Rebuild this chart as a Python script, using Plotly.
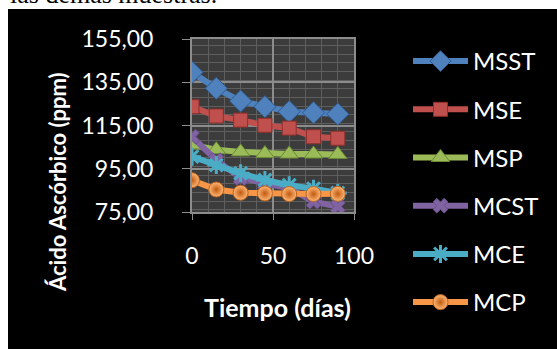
import plotly.graph_objects as go

# Ascorbic acid content over storage time for each sample
dias = [0, 15, 30, 45, 60, 75, 90]
msst = [139.6, 132.2, 126.3, 123.7, 121.4, 120.9, 120.3]
mse = [123.7, 119.4, 117.5, 115.1, 113.8, 109.8, 109.1]
msp = [106.0, 103.8, 102.8, 102.0, 101.8, 101.8, 101.6]
mcst = [109.8, 99.0, 90.7, 88.0, 86.0, 79.8, 77.5]
mce = [100.6, 96.7, 92.9, 89.8, 87.4, 85.8, 83.8]
mcp = [89.7, 85.4, 83.9, 83.6, 83.3, 83.3, 83.4]

series = [
    ("MSST", msst, "#4F81BD", "#2F5A8F", "diamond", 17),
    ("MSE", mse, "#C0504D", "#8E2F2C", "square", 14),
    ("MSP", msp, "#9BBB59", "#6B8A34", "triangle-up", 16),
    ("MCST", mcst, "#8064A2", "#8064A2", "x", 13),
    ("MCE", mce, "#4BACC6", "#4BACC6", "asterisk-open", 15),
    ("MCP", mcp, "#F79646", "#B8621E", "circle", 15),
]

W, H = 557, 349
L, R, T, B = 192, 354, 39, 212


def px(x):
    return (x - L) / (R - L)


def py(y):
    return (B - y) / (B - T)


fig = go.Figure()
for name, vals, color, edge, symbol, size in series:
    marker = dict(symbol=symbol, size=size, color=color,
                  line=dict(color=edge, width=1))
    if symbol == "circle":
        marker["gradient"] = dict(type="radial", color="#C05A10")
        marker["color"] = "#FFB877"
    if symbol == "asterisk-open":
        marker["line"] = dict(color=color, width=3)
    if symbol == "x":
        marker["line"] = dict(color="#6A4E8C", width=1)
    fig.add_trace(go.Scatter(
        x=dias, y=vals, name=name, mode="lines+markers",
        line=dict(color=color, width=6),
        marker=marker, legendgroup=name,
    ))

grid_major = "#8C8C8C"
grid_minor = "#5E5E5E"
axis_font = dict(family="Lato", size=23, color="white")

fig.update_layout(
    width=W, height=H,
    margin=dict(l=L, r=W - R, t=T, b=H - B, pad=0),
    paper_bgcolor="black",
    plot_bgcolor="#3C3C3C",
    separators=", ",
    showlegend=True,
    legend=dict(
        x=px(408), xanchor="left", y=py(39), yanchor="top",
        font=dict(family="Lato", size=24, color="white"),
        bgcolor="rgba(0,0,0,0)", tracegroupgap=14,
        itemwidth=55, maxheight=H,
    ),
    xaxis=dict(
        range=[0, 100], tickvals=[0, 50, 100], ticks="outside", ticklen=6,
        tickcolor=grid_major, showline=True, linecolor=grid_major, linewidth=2,
        mirror=True, showgrid=True, gridcolor=grid_major, gridwidth=1.5,
        minor=dict(dtick=10, showgrid=True, gridcolor=grid_minor, gridwidth=1),
        tickfont=axis_font, ticklabelstandoff=16, zeroline=False,
    ),
    yaxis=dict(
        range=[75, 155], tickvals=[75, 95, 115, 135, 155], tickformat=".2f",
        ticks="outside", ticklen=8, tickcolor=grid_major, showline=True,
        linecolor=grid_major, linewidth=2, mirror=True, showgrid=True,
        gridcolor=grid_major, gridwidth=1.5,
        minor=dict(dtick=4, showgrid=True, gridcolor=grid_minor, gridwidth=1),
        tickfont=axis_font, ticklabelstandoff=24, zeroline=False,
    ),
    shapes=[
        dict(type="rect", xref="paper", yref="paper", x0=px(-5), x1=px(W + 5),
             y0=py(9), y1=py(-5), fillcolor="white", line=dict(width=0)),
        dict(type="rect", xref="paper", yref="paper", x0=px(-5), x1=px(8),
             y0=py(H + 5), y1=py(-5), fillcolor="white", line=dict(width=0)),
    ],
    annotations=[
        dict(text="las demás muestras.", xref="paper", yref="paper",
             x=px(8), y=py(11), xanchor="left", yanchor="bottom",
             showarrow=False,
             font=dict(family="Liberation Serif", size=26, color="black")),
        dict(text="<b>Ácido Ascórbico (ppm)</b>", xref="paper", yref="paper",
             x=px(57), y=py(182), xanchor="center", yanchor="middle",
             textangle=-90, showarrow=False,
             font=dict(family="Lato", size=22, color="white")),
        dict(text="<b>Tiempo (días)</b>", xref="paper", yref="paper",
             x=px(277), y=py(307), xanchor="center", yanchor="middle",
             showarrow=False,
             font=dict(family="Lato", size=25, color="white")),
    ],
)

fig.write_html("out.html")
